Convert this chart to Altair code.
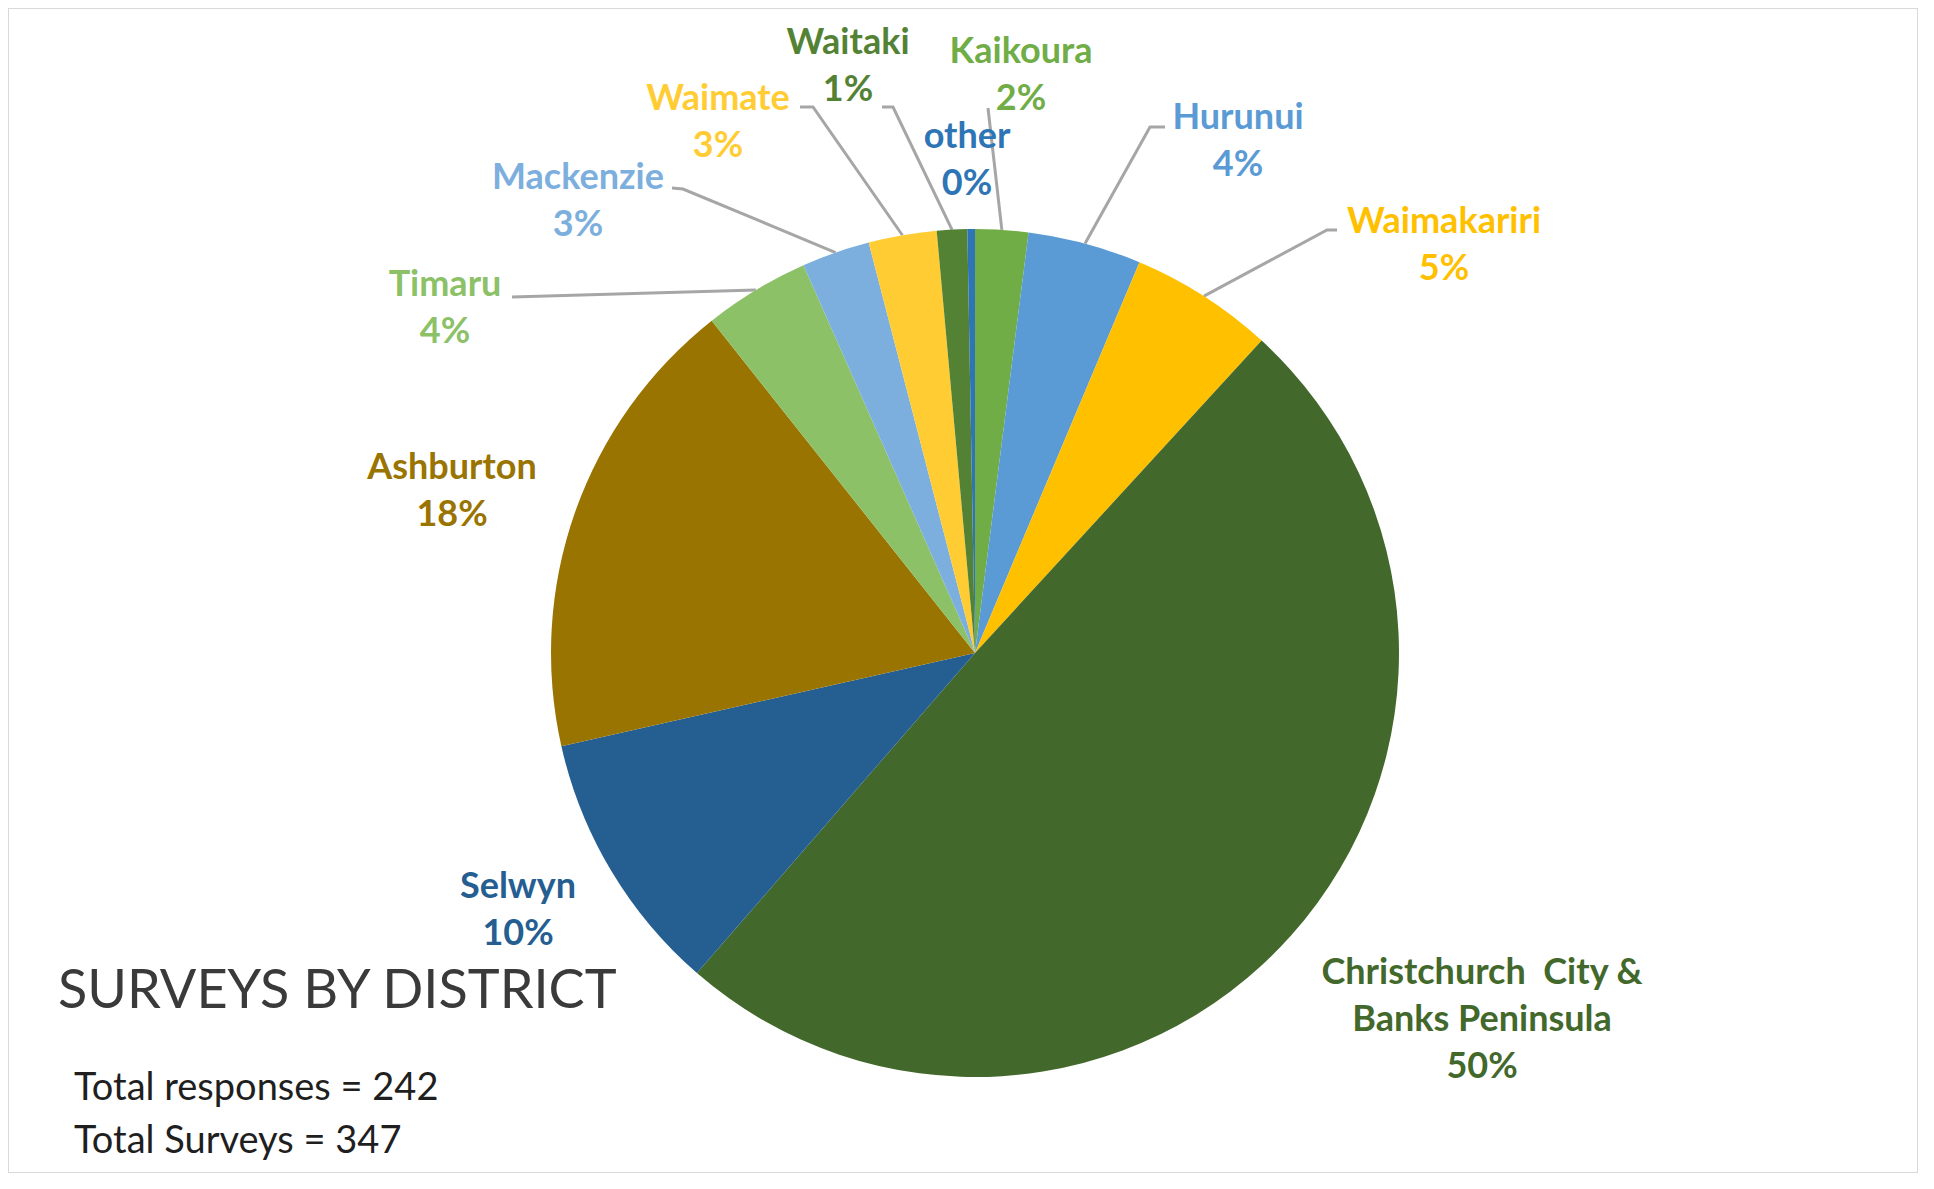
import altair as alt
import pandas as pd
import math

# ---------------- data ----------------
districts = ["Kaikoura", "Hurunui", "Waimakariri", "Christchurch City & Banks Peninsula",
             "Selwyn", "Ashburton", "Timaru", "Mackenzie", "Waimate", "Waitaki", "other"]
label_names = ["Kaikoura", "Hurunui", "Waimakariri", "Christchurch\u00a0\u00a0City &\nBanks Peninsula",
               "Selwyn", "Ashburton", "Timaru", "Mackenzie", "Waimate", "Waitaki", "other"]
surveys = [7, 15, 19, 172, 35, 62, 14, 9, 9, 4, 1]
colors = ["#70AD47", "#5B9BD5", "#FFC000", "#43682B", "#255E91", "#9A7400",
          "#8CC168", "#7CAFDD", "#FFCD33", "#548235", "#2E75B6"]

title_text = "SURVEYS BY DISTRICT"
total_lines = ["Total responses = 242", "Total Surveys = 347"]

# ---------------- layout (pixels relative to pie centre, up = positive) ----------------
W, H = 1910, 1165
CX, CY = 967, 645          # pie centre inside the view
R = 424                    # pie radius
LH = 47                    # label line height
xs = alt.Scale(domain=[-CX, W - CX], nice=False, zero=False)
ys = alt.Scale(domain=[CY - H, CY], nice=False, zero=False)

# centre of each label block
label_pos = {
    "Kaikoura": (46, 578), "Hurunui": (263, 512), "Waimakariri": (469, 408),
    "Christchurch City & Banks Peninsula": (507, -367), "Selwyn": (-457, -257),
    "Ashburton": (-523, 162), "Timaru": (-530, 345), "Mackenzie": (-397, 452),
    "Waimate": (-257, 531), "Waitaki": (-127, 587), "other": (-8, 493),
}
leader_pts = {
    "Kaikoura": [(13, 545)],
    "Hurunui": [(190, 526), (175, 526)],
    "Waimakariri": [(362, 423), (352, 423)],
    "Timaru": [(-463, 356)],
    "Mackenzie": [(-303, 465), (-292, 464)],
    "Waimate": [(-175, 546), (-162, 546)],
    "Waitaki": [(-93, 546), (-82, 546)],
}

total = sum(surveys)
df = pd.DataFrame({"district": districts, "surveys": surveys, "idx": range(len(districts))})
df["pct"] = [f"{round(v / total * 100)}%" for v in surveys]
df["label"] = [f"{n}\n{p}" for n, p in zip(label_names, df["pct"])]
nlines = [lab.count("\n") + 1 for lab in df["label"]]
df["lx"] = [label_pos[d][0] for d in districts]
# text is anchored on its first line: shift so the block is centred
df["ly"] = [label_pos[d][1] + (n - 1) / 2 * LH for d, n in zip(districts, nlines)]
cum = df["surveys"].cumsum()
df["mid"] = (cum - df["surveys"] / 2) / total * 2 * math.pi

rows = []
for d, mid in zip(df["district"], df["mid"]):
    if d not in leader_pts:
        continue
    pts = leader_pts[d] + [(R * math.sin(mid), R * math.cos(mid))]
    for i, (px, py) in enumerate(pts):
        rows.append({"district": d, "seq": i, "x": px, "y": py})
leaders = pd.DataFrame(rows)

color_scale = alt.Scale(domain=districts, range=colors)

pie = alt.Chart(df).mark_arc(outerRadius=R).encode(
    theta=alt.Theta("surveys:Q", stack=True),
    order=alt.Order("idx:Q"),
    color=alt.Color("district:N", scale=color_scale, legend=None),
    x=alt.XDatum(0, scale=xs, axis=None),
    y=alt.YDatum(0, scale=ys, axis=None),
)

lines = alt.Chart(leaders).mark_line(color="#A6A6A6", strokeWidth=3).encode(
    x=alt.X("x:Q", scale=xs, axis=None),
    y=alt.Y("y:Q", scale=ys, axis=None),
    detail="district:N",
    order="seq:Q",
)

labels = alt.Chart(df).mark_text(
    font="Lato", fontWeight="bold", fontSize=36, lineBreak="\n", lineHeight=LH,
    align="center", baseline="middle",
).encode(
    x=alt.X("lx:Q", scale=xs, axis=None),
    y=alt.Y("ly:Q", scale=ys, axis=None),
    text="label:N",
    color=alt.Color("district:N", scale=color_scale, legend=None),
)

title_df = pd.DataFrame({"t": [title_text], "x": [-917], "y": [-355]})
title = alt.Chart(title_df).mark_text(
    font="Lato", fontSize=54, color="#3A3A3A", align="left", baseline="alphabetic",
).encode(
    x=alt.X("x:Q", scale=xs, axis=None),
    y=alt.Y("y:Q", scale=ys, axis=None),
    text="t:N",
)

tot_df = pd.DataFrame({"t": total_lines, "x": [-901, -901], "y": [-447, -500]})
totals = alt.Chart(tot_df).mark_text(
    font="Lato", fontSize=38, color="#1F1F1F", align="left", baseline="alphabetic",
).encode(
    x=alt.X("x:Q", scale=xs, axis=None),
    y=alt.Y("y:Q", scale=ys, axis=None),
    text="t:N",
)

chart = alt.layer(lines, pie, labels, title, totals).properties(
    width=W, height=H, padding=0, autosize=alt.AutoSizeParams(type="none"),
    background="white",
).configure_view(stroke="#D9D9D9", strokeWidth=2)

chart.save("out.html", embed_options={"renderer": "svg", "actions": False})
